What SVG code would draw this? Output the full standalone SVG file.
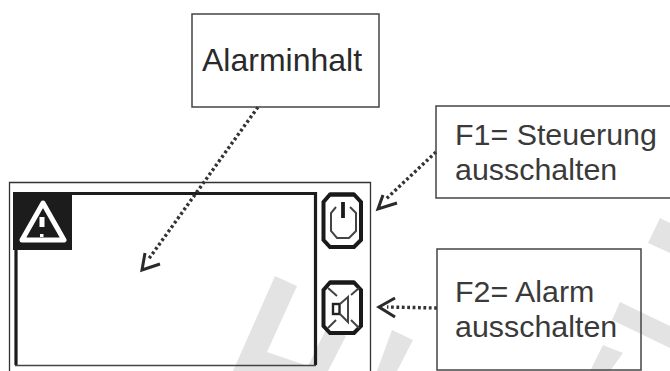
<svg xmlns="http://www.w3.org/2000/svg" width="670" height="371" viewBox="0 0 670 371">
<defs>
<style>
.box{fill:none;stroke:#444;stroke-width:1.5}
.t{font-family:"Liberation Sans",Arial,sans-serif;font-size:30.4px;fill:#3a3a3a}
.dot{fill:none;stroke:#333;stroke-width:3.4;stroke-dasharray:2.8 2.6}
.head{fill:none;stroke:#2a2a2a;stroke-width:3}
.wm{fill:#e3e3e3}
.ic{fill:#fff;stroke:#1a1a1a;stroke-width:4}
.thin{fill:none;stroke:#444;stroke-width:2}
</style>
</defs>
<rect width="670" height="371" fill="#fff"/>
<g id="watermark">
<path class="wm" d="M275 276L297 286L267 352L308 366L327 327L346 336L328 371H233Z"/>
<path class="wm" d="M392 330L413 340L397 371H377Z"/>
<path class="wm" d="M660 218L670 223V253L648 243Z"/>
<path class="wm" d="M620 302L670 326V348L612 320Z"/>
<path class="wm" d="M603 345L623 353L610 371H590Z"/>
</g>
<g id="display">
<path d="M9.500 371V182.500H370.500V371" fill="none" stroke="#333" stroke-width="1.3"/>
<path d="M16 365V193.500H315.500V365" fill="none" stroke="#1c1c1c" stroke-width="3.200"/>
<path d="M15 365.500H316" fill="none" stroke="#444" stroke-width="1.600"/>
<rect x="13" y="192" width="59" height="58" fill="#1c1c1c"/>
<path d="M43 203L64 240H22Z" fill="none" stroke="#fff" stroke-width="5" stroke-linejoin="round"/>
<path d="M42 217v10" stroke="#fff" stroke-width="5"/>
<rect x="40" y="234" width="3.500" height="3" fill="#fff"/>
</g>
<g id="power-key">
<path class="ic" d="M330 194.500H354L361 202V240L354 247H330L323.500 240V202Z"/>
<path class="ic" d="M330 194.500H354M330 247H354" stroke-width="5"/>
<path class="thin" d="M336 207L331 213V231L337 238H349L356 231V213L350 207"/>
<path d="M343 202V218" stroke="#1a1a1a" stroke-width="3.800"/>
</g>
<g id="alarm-key">
<path class="ic" d="M330 282.500H354L361 290V326L354 333H330L323.500 326V290Z"/>
<path class="ic" d="M330 282.500H354M330 333H354" stroke-width="4.500"/>
<path class="thin" d="M328 288L337 296M359 288L351 295M328 328L336 320M359 328L351 320"/>
<rect x="333" y="304" width="6.500" height="10" fill="none" stroke="#222" stroke-width="2.400"/>
<path class="thin" d="M340 304L348 297V322L340 314"/>
</g>
<g id="connectors">
<path class="dot" d="M258 107L148 260"/>
<path class="head" d="M145 253L142 270L160 264"/>
<path class="dot" d="M436 152L385 200"/>
<path class="head" d="M383 195L378 209L397 203"/>
<path class="dot" d="M437 308L387 307"/>
<path class="head" d="M395 298L379 307L395 317"/>
</g>
<g id="n-alarminhalt">
<rect class="box" x="192" y="14" width="187" height="93"/>
<text class="t" x="202" y="71" style="font-size:32px;fill:#2a2a2a">Alarminhalt</text>
</g>
<g id="n-f1">
<path class="box" d="M670 106H436V198H670"/>
<text class="t" x="455" y="145">F1= Steuerung</text>
<text class="t" x="455" y="180">ausschalten</text>
</g>
<g id="n-f2">
<rect class="box" x="437" y="249" width="204" height="121"/>
<text class="t" x="455" y="302">F2= Alarm</text>
<text class="t" x="455" y="337">ausschalten</text>
</g>
</svg>
